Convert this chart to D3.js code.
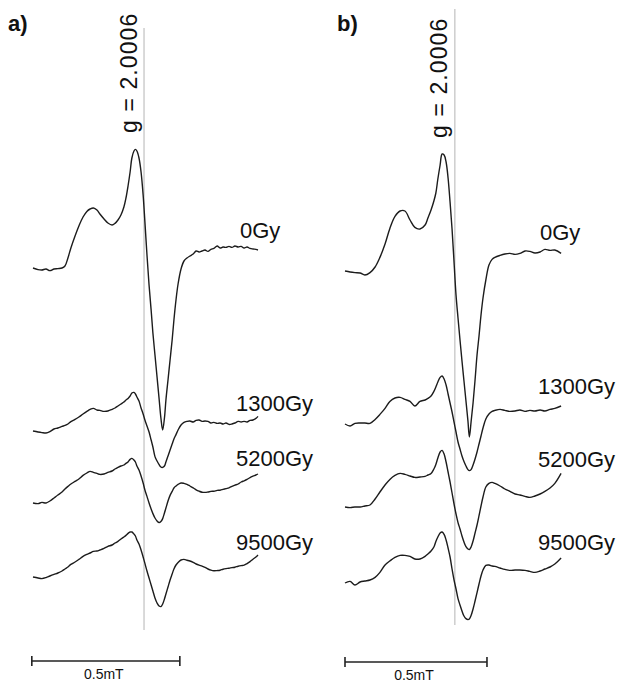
<!DOCTYPE html>
<html>
<head>
<meta charset="utf-8">
<script src="https://cdn.jsdelivr.net/npm/d3@7"></script>
<style>
  html, body { margin: 0; padding: 0; background: #fff; }
  svg { display: block; }
  text { font-family: "Liberation Sans", Arial, Helvetica, sans-serif; fill: #111; }
</style>
</head>
<body>
<svg id="chart" width="624" height="682"></svg>
<script>
// ---------------- DATA ----------------
const doseLabels = ["0Gy", "1300Gy", "5200Gy", "9500Gy"];
const gLabel = "g = 2.0006";
const scaleBarLabel = "0.5mT";
const scaleBarLength = 0.5; // mT

// Panel a: magnetic field (mT, from sweep start)
const fieldA = [0, 0.017, 0.030, 0.044, 0.057, 0.071, 0.084, 0.098, 0.108, 0.118, 0.128, 0.142, 0.155, 0.169, 0.182, 0.193,
  0.204, 0.216, 0.226, 0.240, 0.253, 0.267, 0.277, 0.287, 0.297, 0.307, 0.314, 0.321, 0.328, 0.334, 0.341, 0.346,
  0.351, 0.358, 0.365, 0.372, 0.378, 0.385, 0.392, 0.399, 0.405, 0.412, 0.419, 0.426, 0.432, 0.438, 0.444, 0.449,
  0.456, 0.463, 0.470, 0.476, 0.483, 0.490, 0.500, 0.510, 0.520, 0.530, 0.541, 0.551, 0.561, 0.571, 0.581, 0.591,
  0.601, 0.611, 0.622, 0.632, 0.642, 0.652, 0.662, 0.672, 0.682, 0.693, 0.703, 0.713, 0.723, 0.733, 0.743, 0.753, 0.760];

// Panel a: EPR first-derivative intensity (a.u.)
const a0Gy = [0, -0.8, -1, -0.5, -1.3, -0.5, -0.3, 0, 1, 5, 10, 16, 21, 25.5, 28.3, 29.5,
  30, 29, 27, 24.5, 22.5, 21.5, 22.3, 24, 26.5, 30.5, 35, 41, 48, 55, 58.5, 59.3,
  58.5, 55, 48, 36.5, 23, 6.5, -8.5, -21, -32.5, -43.5, -54.5, -65.5, -75, -81, -75, -66,
  -56, -46, -36, -26, -16, -8, -0.5, 3.5, 5, 6, 7, 8.5, 8, 8.5, 9, 8.3,
  9.3, 9.8, 11, 10, 10.5, 10.3, 10.8, 10.3, 11, 10.5, 10.8, 10, 10.5, 9.8, 9.5, 9.3, 9];
const a1300Gy = [0, -0.5, -0.8, -1, -0.3, 1, 1.5, 2.3, 2.8, 3.5, 4.7, 5.8, 7, 8.5, 9.8, 10.8,
  11.3, 10.5, 10.3, 9.8, 10, 10.8, 11.5, 12.5, 13.5, 14.5, 15.5, 16.3, 17.5, 19, 19.3, 18.5,
  17, 15, 11.5, 8.5, 5.5, 2.5, -0.5, -4.5, -8, -12.8, -15, -16.8, -18, -18.2, -17.5, -15.5,
  -12.5, -9.5, -6.5, -4, -1.8, 0.5, 3, 4.3, 4.8, 5, 4.5, 5.3, 5.5, 4.8, 5, 4.8,
  4, 4.3, 3.8, 4, 3.5, 4, 3.3, 3.5, 4, 4.8, 4.5, 4.8, 4.5, 5.3, 5.5, 6.3, 7.3];
const a5200Gy = [0, -0.3, 0.3, 0, 1, 2.5, 4, 5.5, 7, 8.3, 9.5, 10.8, 12, 13.8, 15, 15.8,
  15.3, 14.8, 14.3, 14.5, 15.3, 16, 17, 17.8, 18.5, 19, 19.8, 20.5, 21.8, 22.3, 21.5, 20.5,
  18.5, 16.5, 13.5, 10, 6.5, 3.3, 0, -3, -5.3, -7.5, -9, -9.8, -9.3, -7.8, -5, -2.5,
  1, 3.8, 5.8, 7.5, 8.5, 9.3, 10, 9.8, 9.3, 8.5, 7.6, 6.6, 5.9, 5.4, 5.3, 5.5,
  5.8, 5.9, 6.3, 6.4, 6.8, 7.2, 7.6, 8.3, 8.9, 9.5, 10.5, 11.1, 11.8, 12.7, 13.4, 14, 14.5];
const a9500Gy = [0, -0.5, -0.8, -0.3, 0.5, 1.3, 2, 3, 4, 5, 6.3, 7.5, 8.8, 10.3, 11.3, 12,
  12.8, 13, 13.5, 14.3, 15.3, 16, 17, 17.8, 19, 20, 20.8, 21.8, 22.5, 22.5, 21.5, 20.5,
  18.5, 16.5, 13.5, 10, 6.8, 3, -0.5, -4, -7, -10.5, -13, -14.5, -14.8, -13.5, -11, -8.5,
  -5, -1.5, 1.5, 4, 6, 7.3, 8.5, 8.8, 8.4, 8, 7.3, 6.5, 5.9, 5.4, 4.8, 4,
  3.4, 3.1, 3.2, 3.4, 3.9, 4.2, 4.4, 4.7, 4.9, 5.4, 5.7, 5.9, 6.7, 7.7, 8.9, 10, 11];
const offsetsA = [206, 124.5, 88.5, 51.5]; // stacking offsets (a.u.)

// Panel b: magnetic field (mT, from sweep start)
const fieldB = [0, 0.018, 0.035, 0.053, 0.070, 0.088, 0.106, 0.123, 0.141, 0.158, 0.176, 0.194, 0.211, 0.229, 0.246, 0.264,
  0.282, 0.292, 0.303, 0.313, 0.320, 0.327, 0.335, 0.342, 0.349, 0.356, 0.363, 0.370, 0.377, 0.384, 0.391, 0.398,
  0.405, 0.412, 0.419, 0.426, 0.433, 0.438, 0.444, 0.451, 0.458, 0.465, 0.472, 0.479, 0.486, 0.496, 0.507, 0.518,
  0.528, 0.546, 0.563, 0.581, 0.599, 0.616, 0.634, 0.651, 0.669, 0.687, 0.704, 0.722, 0.739, 0.761];

const b0Gy = [0, -0.5, -0.8, -1, -2, -0.8, 2, 6.8, 13.5, 21.3, 27.3, 30, 30, 25.5, 21.8, 21,
  23, 26.5, 30.5, 35, 39, 46, 53, 58.5, 58, 54.5, 46.5, 34.5, 21, 4.5, -12, -23.5,
  -34.5, -45, -55, -65, -75, -83, -75.5, -66, -54.5, -42, -32.5, -22, -13.5, -4.5, 3, 5.8,
  6.8, 7.8, 8.5, 8.8, 8.3, 8.8, 10, 9.8, 9, 9.5, 10.8, 10.3, 10.5, 8.8];
const b1300Gy = [0, -1, 0.3, 0.5, 0.5, 0.3, 2.3, 4.8, 7.8, 11.3, 13, 13.3, 12.3, 11.3, 9, 11.3,
  12, 12.8, 14, 16.3, 18.5, 21, 23.3, 24, 22.5, 19.5, 15, 10.5, 6, 1, -4, -9,
  -12.5, -16, -18.8, -21, -22.8, -23.3, -22.8, -20.5, -17.5, -14, -10, -6, -2, 2.5, 5, 6.3,
  6.8, 7.3, 6.8, 6.3, 6.5, 7, 6.3, 6.8, 6.5, 7, 6.5, 7.3, 7.8, 9];
const b5200Gy = [0, -0.3, 0, 0, 0.5, 1, 4, 7.5, 11, 13.8, 15.8, 16.8, 16.3, 15.5, 14.8, 15,
  15.3, 16, 16.8, 19, 21.3, 24.5, 27.5, 28.3, 26.5, 22.5, 17.5, 12.5, 7, 1.5, -3.5, -7.8,
  -11, -14.5, -17.5, -19.8, -21, -21.3, -20, -17, -13, -9, -4.3, 0.5, 5, 10, 11.8, 12.3,
  11.8, 10.5, 9, 7.8, 6.5, 6, 5.3, 4.8, 5.5, 6.5, 7.8, 9.5, 11.8, 16.8];
const b9500Gy = [0, 0.8, -1, 0.5, 1, 1.5, 2.8, 5.3, 9, 11, 12.8, 13.8, 13.8, 13.3, 12, 12,
  13.3, 14.5, 16, 18, 20.8, 23, 25, 25.5, 24.3, 21.5, 17.5, 13, 7, 1.5, -3, -7.8,
  -11, -14, -16.5, -17.8, -18.3, -18, -16.3, -13, -9, -4.8, -0.5, 3.5, 6.5, 8.8, 9, 8.5,
  8.3, 7.5, 6.8, 6.3, 6.5, 6.5, 6.3, 5.8, 5.3, 6, 7, 8, 9.5, 12.5];
const offsetsB = [204.5, 128, 86.5, 48.5];

// field position of the g = 2.0006 marker in each panel (mT)
const gFieldA = 0.375;
const gFieldB = 0.387;

// ---------------- LAYOUT ----------------
const panels = [
  { tag: "a)", tagX: 8, field: fieldA, series: [a0Gy, a1300Gy, a5200Gy, a9500Gy], offsets: offsetsA,
    range: [33, 258], gField: gFieldA, gTop: 28, gBottom: 630, gTextX: 136.5, gTextY: 133,
    labelX: [240, 236, 236, 236], labelY: [238, 411, 466, 550], barFrom: -0.004, barY: 661, barLabelY: 679 },
  { tag: "b)", tagX: 337, field: fieldB, series: [b0Gy, b1300Gy, b5200Gy, b9500Gy], offsets: offsetsB,
    range: [345, 560.8], gField: gFieldB, gTop: 9, gBottom: 625, gTextX: 447, gTextY: 138,
    labelX: [540, 538, 538, 538], labelY: [240, 394, 467, 550], barFrom: 0, barY: 662, barLabelY: 680 }
];

const svg = d3.select("#chart");
const y = d3.scaleLinear().domain([0, 340]).range([680, 0]);

panels.forEach(p => {
  const x = d3.scaleLinear().domain([0, 0.76]).range(p.range);
  const g = svg.append("g");

  // g-marker line
  g.append("line")
    .attr("x1", x(p.gField)).attr("x2", x(p.gField))
    .attr("y1", p.gTop).attr("y2", p.gBottom)
    .attr("stroke", "#b4b4b4").attr("stroke-width", 1);

  g.append("text")
    .attr("transform", `translate(${p.gTextX},${p.gTextY}) rotate(-90)`)
    .attr("font-size", 23)
    .attr("letter-spacing", 1.1)
    .text(gLabel);

  // spectra
  const line = d3.line()
    .x((d, i) => x(p.field[i]))
    .y(d => d)
    .curve(d3.curveCatmullRom.alpha(0.5));

  p.series.forEach((s, k) => {
    const ys = s.map(v => y(p.offsets[k] + v));
    g.append("path")
      .attr("d", line(ys))
      .attr("fill", "none")
      .attr("stroke", "#1c1c1c")
      .attr("stroke-width", 1.4)
      .attr("stroke-linejoin", "round");

    g.append("text")
      .attr("x", p.labelX[k]).attr("y", p.labelY[k])
      .attr("font-size", 22)
      .text(doseLabels[k]);
  });

  // panel tag
  g.append("text")
    .attr("x", p.tagX).attr("y", 31)
    .attr("font-size", 22).attr("font-weight", "bold")
    .text(p.tag);

  // scale bar
  const x0 = x(p.barFrom), x1 = x(p.barFrom + scaleBarLength);
  const bar = g.append("g").attr("stroke", "#222").attr("stroke-width", 1.6);
  bar.append("line").attr("x1", x0).attr("x2", x1).attr("y1", p.barY).attr("y2", p.barY);
  bar.append("line").attr("x1", x0).attr("x2", x0).attr("y1", p.barY - 5).attr("y2", p.barY + 5);
  bar.append("line").attr("x1", x1).attr("x2", x1).attr("y1", p.barY - 5).attr("y2", p.barY + 5);
  g.append("text")
    .attr("x", (x0 + x1) / 2 - 2).attr("y", p.barLabelY)
    .attr("text-anchor", "middle")
    .attr("font-size", 14)
    .text(scaleBarLabel);
});
</script>
</body>
</html>
